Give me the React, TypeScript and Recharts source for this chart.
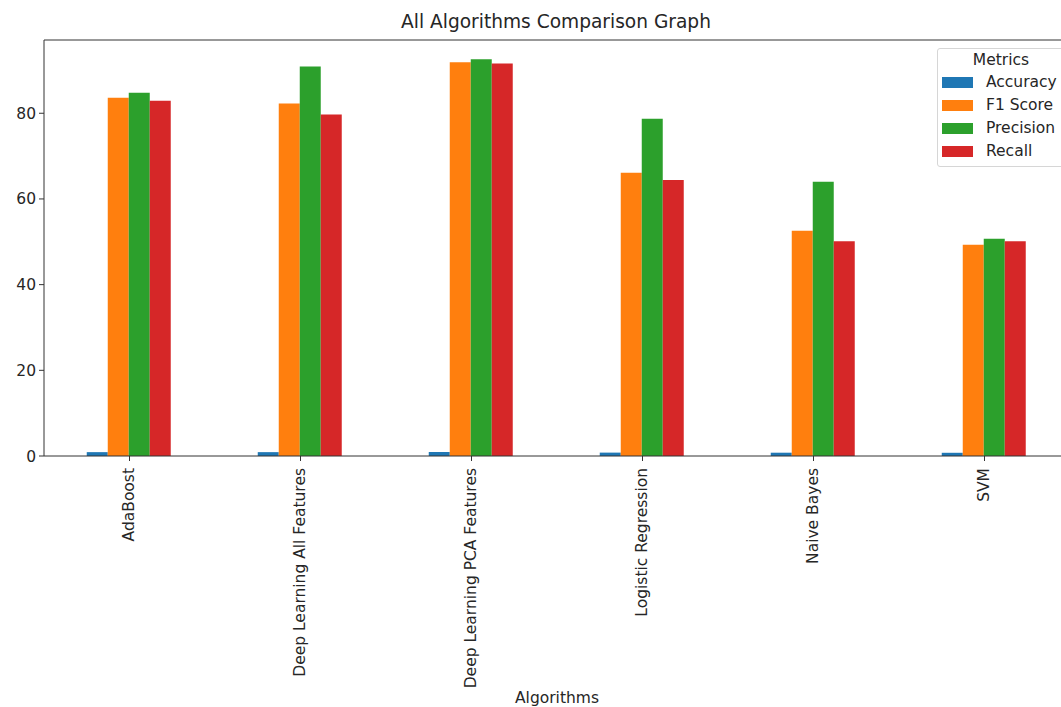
import React from "react";
import {
  BarChart,
  Bar,
  XAxis,
  YAxis,
  Legend,
  ReferenceLine,
} from "recharts";

const algorithms = [
  "AdaBoost",
  "Deep Learning All Features",
  "Deep Learning PCA Features",
  "Logistic Regression",
  "Naive Bayes",
  "SVM",
];

const accuracy = [0.9, 0.9, 0.93, 0.79, 0.77, 0.75];
const f1Score = [83.6, 82.3, 91.9, 66.1, 52.6, 49.3];
const precision = [84.8, 90.9, 92.6, 78.7, 64.0, 50.7];
const recall = [82.9, 79.7, 91.6, 64.4, 50.1, 50.1];

const yTicks = [0, 20, 40, 60, 80];
const yMax = 97.1;

const metrics = [
  { key: "Accuracy", values: accuracy, color: "#1f77b4" },
  { key: "F1 Score", values: f1Score, color: "#ff7f0e" },
  { key: "Precision", values: precision, color: "#2ca02c" },
  { key: "Recall", values: recall, color: "#d62728" },
];

const data = algorithms.map((name, i) => {
  const row: Record<string, any> = { name };
  metrics.forEach((m) => {
    row[m.key] = m.values[i];
  });
  return row;
});

const font = "'DejaVu Sans', sans-serif";
const textColor = "#262626";
const fs = 15.5;

const RotatedTick = (props: any) => {
  const { x, y, payload } = props;
  return (
    <text
      x={x}
      y={y}
      dy="0.3em"
      textAnchor="end"
      transform={`rotate(-90, ${x}, ${y})`}
      fontFamily={font}
      fontSize={fs}
      fill={textColor}
    >
      {payload.value}
    </text>
  );
};

const MetricsLegend = () => (
  <div
    style={{
      border: "1px solid #d6d6d6",
      borderRadius: 3,
      background: "rgba(255,255,255,0.8)",
      fontFamily: font,
      fontSize: fs,
      color: textColor,
      paddingBottom: 3,
      boxSizing: "border-box",
      whiteSpace: "nowrap",
    }}
  >
    <div style={{ textAlign: "center", height: 22, lineHeight: "22px" }}>Metrics</div>
    {metrics.map((m) => (
      <div
        key={m.key}
        style={{ display: "flex", alignItems: "center", height: 22.9 }}
      >
        <span
          style={{
            display: "inline-block",
            width: 31,
            height: 11,
            background: m.color,
            marginLeft: 4,
            marginRight: 13,
            flexShrink: 0,
          }}
        />
        <span>{m.key}</span>
      </div>
    ))}
  </div>
);

export default function App() {
  return (
    <div
      style={{
        position: "absolute",
        left: 0,
        top: 0,
        width: 1061,
        height: 707,
        overflow: "hidden",
        background: "#fff",
      }}
    >
      <div
        style={{
          position: "absolute",
          top: 10,
          left: 0,
          width: 1112,
          textAlign: "center",
          fontFamily: font,
          fontSize: 18.6,
          color: textColor,
          lineHeight: "24px",
        }}
      >
        All Algorithms Comparison Graph
      </div>
      <BarChart
        width={1080}
        height={707}
        data={data}
        margin={{ top: 40, right: 10, left: 0, bottom: 0 }}
        barCategoryGap="25%"
        barGap={0}
      >
        <XAxis
          dataKey="name"
          height={251}
          interval={0}
          tick={<RotatedTick />}
          tickSize={5}
          tickMargin={7}
          stroke="#333"
          tickLine={{ stroke: "#333" }}
          label={{
            value: "Algorithms",
            position: "insideBottom",
            offset: 4,
            fontFamily: font,
            fontSize: fs,
            fill: textColor,
          }}
        />
        <YAxis
          width={44}
          domain={[0, yMax]}
          ticks={yTicks}
          tickSize={5}
          tickMargin={3}
          stroke="#333"
          tick={{ fontFamily: font, fontSize: fs, fill: textColor }}
        />
        <ReferenceLine y={yMax} stroke="#333" />
        <Legend
          layout="horizontal"
          verticalAlign="middle"
          align="center"
          content={<MetricsLegend />}
          wrapperStyle={{ top: 48, left: 937, width: 128, right: "auto", bottom: "auto" }}
        />
        {metrics.map((m) => (
          <Bar
            key={m.key}
            dataKey={m.key}
            name={m.key}
            fill={m.color}
            isAnimationActive={false}
          />
        ))}
      </BarChart>
    </div>
  );
}
